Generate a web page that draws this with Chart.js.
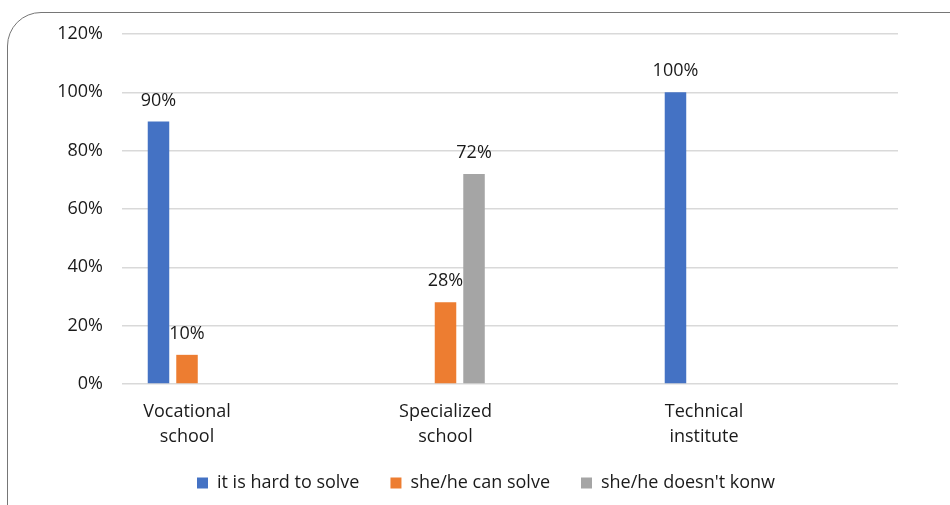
<!DOCTYPE html>
<html>
<head>
<meta charset="utf-8">
<script src="https://cdn.jsdelivr.net/npm/chart.js@4.4.1/dist/chart.umd.min.js"></script>
<style>
  html, body { margin: 0; padding: 0; background: #fff; overflow: hidden; }
  #wrap { position: relative; width: 950px; height: 505px; }
  #frame {
    position: absolute; left: 7px; top: 12px; width: 1000px; height: 600px;
    border: 1.5px solid #767676; border-radius: 34px; box-sizing: border-box;
  }
  #chart { position: absolute; left: 0; top: 0; }
</style>
</head>
<body>
<div id="wrap">
  <div id="frame"></div>
  <canvas id="chart" width="950" height="505"></canvas>
</div>
<script>
// categories and series (percent)
const categories = ['Vocational school', 'Specialized school', 'Technical institute'];
const hardToSolve = [90, null, 100];
const canSolve = [10, 28, null];
const doesntKnow = [null, 72, null];
const yTicks = [0, 20, 40, 60, 80, 100, 120];

const seriesNames = ['it is hard to solve', 'she/he can solve', "she/he doesn't konw"];
const seriesColors = ['#4472C4', '#ED7D31', '#A5A5A5'];

const textColor = '#1a1a1a';
const fontFamily = "'Open Sans', 'Noto Sans', sans-serif";

const toPoints = (arr) => arr.map((v, i) => ({ x: i, y: v }));

// value labels above the bars
const barLabels = {
    id: 'barLabels',
    afterDatasetsDraw(chart) {
        const ctx = chart.ctx;
        ctx.save();
        ctx.font = '18px ' + fontFamily;
        ctx.fillStyle = textColor;
        ctx.textAlign = 'center';
        ctx.textBaseline = 'middle';
        chart.data.datasets.forEach((ds, di) => {
            const meta = chart.getDatasetMeta(di);
            meta.data.forEach((bar, i) => {
                const v = ds.data[i].y;
                if (v === null || v === undefined) return;
                ctx.fillText(v + '%', bar.x, bar.y - 21);
            });
        });
        ctx.restore();
    }
};

// the legend sits a bit right of the canvas centre in the original
const legendShift = {
    id: 'legendShift',
    afterLayout(chart) {
        chart.legend.left += 37;
        chart.legend.right += 37;
    }
};

const barChart = new Chart(document.getElementById('chart'), {
    type: 'bar',
    data: {
        datasets: [hardToSolve, canSolve, doesntKnow].map((arr, k) => ({
            label: seriesNames[k],
            data: toPoints(arr),
            backgroundColor: seriesColors[k],
            categoryPercentage: 0.331,
            barPercentage: 0.754,
        }))
    },
    options: {
        responsive: false,
        animation: false,
        layout: { padding: { left: 0, right: 52, top: 34, bottom: 3 } },
        plugins: {
            tooltip: { enabled: false },
            legend: {
                position: 'bottom',
                labels: {
                    boxWidth: 11,
                    boxHeight: 11,
                    padding: 31,
                    color: textColor,
                    font: { family: fontFamily, size: 18 }
                }
            }
        },
        scales: {
            x: {
                type: 'linear',
                offset: false,
                bounds: 'data',
                min: -0.2515,
                max: 2.7505,
                afterBuildTicks: (scale) => {
                    scale.ticks = categories.map((c, i) => ({ value: i }));
                },
                afterFit: (scale) => { scale.height = 59; },
                grid: { display: false },
                border: { display: false },
                ticks: {
                    padding: 7,
                    color: textColor,
                    font: { family: fontFamily, size: 18, lineHeight: 1.4 },
                    callback: (v) => categories[v] ? categories[v].split(' ') : ''
                }
            },
            y: {
                min: 0,
                max: 120,
                afterBuildTicks: (scale) => {
                    scale.ticks = yTicks.map(v => ({ value: v }));
                },
                afterFit: (scale) => { scale.width = 122; },
                grid: { color: '#d9d9d9', lineWidth: 1.5, drawTicks: false },
                border: { display: false },
                ticks: {
                    padding: 19,
                    color: textColor,
                    font: { family: fontFamily, size: 18 },
                    callback: (v) => v + '%'
                }
            }
        }
    },
    plugins: [barLabels, legendShift]
});
</script>
</body>
</html>
